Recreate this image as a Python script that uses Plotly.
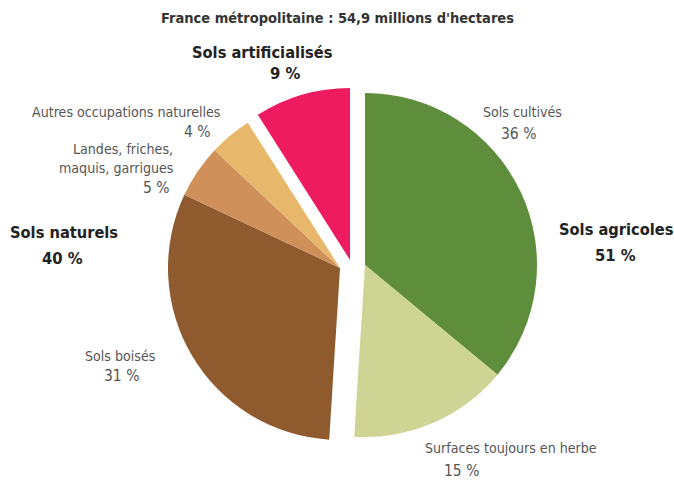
import plotly.graph_objects as go

categories = ["Sols cultivés", "Surfaces toujours en herbe", "Sols boisés",
              "Landes, friches, maquis, garrigues", "Autres occupations naturelles",
              "Sols artificialisés"]
values = [36, 15, 31, 5, 4, 9]
groups = ["agri", "agri", "nat", "nat", "nat", "art"]
colors = ["#5e8e3c", "#cdd494", "#8e5a2e", "#cf9159", "#e7b86c", "#ef1b60"]

group_names = ["Sols agricoles", "Sols naturels", "Sols artificialisés"]
group_values = [51, 40, 9]
title_text = "France métropolitaine : 54,9 millions d'hectares"

W, H = 674, 480
R = 172
centers = {"agri": (365, 265), "nat": (340, 268), "art": (350, 260)}

fig = go.Figure()
for g, (cx, cy) in centers.items():
    cols = [c if gg == g else "rgba(0,0,0,0)" for c, gg in zip(colors, groups)]
    cyb = H - cy
    fig.add_trace(go.Pie(
        labels=categories, values=values, sort=False, direction="clockwise",
        rotation=0, textinfo="none", hoverinfo="skip", showlegend=False,
        marker=dict(colors=cols, line=dict(width=0)),
        domain=dict(x=[(cx - R) / W, (cx + R) / W], y=[(cyb - R) / H, (cyb + R) / H]),
    ))

FONT = "DejaVu Sans Condensed, Liberation Sans Narrow, sans-serif"
ann = []
def t(x, y, text, size=12, bold=False, color="#555555", anchor="center"):
    if bold:
        text = "<b>" + text + "</b>"
    ann.append(dict(x=x / W, y=1 - y / H, xref="paper", yref="paper", text=text,
                    showarrow=False, xanchor=anchor, yanchor="middle",
                    font=dict(family=FONT, size=size, color=color)))

REG = 14.1
PCT = 15.5
BNAME = 16.3
BPCT = 16.5
t(337, 18, title_text, 14.5, True, "#333333")
t(262, 53, group_names[2], BNAME, True, "#222222")
t(285, 73, f"{values[5]} %", BPCT, True, "#222222")
t(222, 112, categories[4], REG, anchor="right")
t(213, 132, f"{values[4]} %", PCT, anchor="right")
t(175, 149, "Landes, friches,", REG, anchor="right")
t(175, 168, "maquis, garrigues", REG, anchor="right")
t(172, 188, f"{values[3]} %", PCT, anchor="right")
t(64, 233, group_names[1], BNAME, True, "#222222")
t(63, 258, f"{group_values[1]} %", BPCT, True, "#222222")
t(522, 112, categories[0], REG)
t(518, 134, f"{values[0]} %", PCT)
t(616, 229, group_names[0], BNAME, True, "#222222")
t(615, 255, f"{group_values[0]} %", BPCT, True, "#222222")
t(120, 356, categories[2], REG)
t(121, 376, f"{values[2]} %", PCT)
t(423, 448, categories[1], REG, anchor="left")
t(461, 471, f"{values[1]} %", PCT)

fig.update_layout(width=W, height=H, margin=dict(l=0, r=0, t=0, b=0),
                  paper_bgcolor="white", plot_bgcolor="white", annotations=ann)
fig.write_html("out.html")
